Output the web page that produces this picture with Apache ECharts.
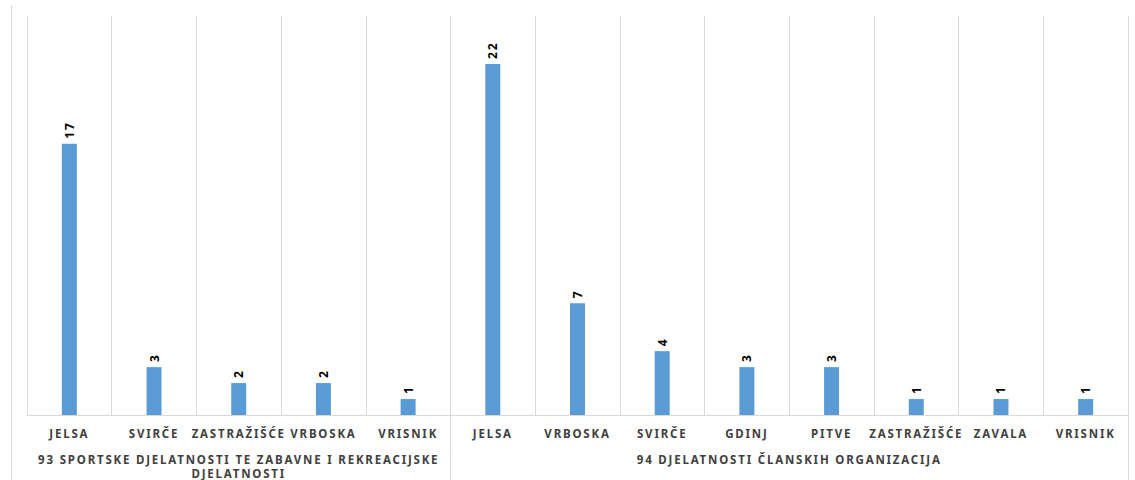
<!DOCTYPE html>
<html><head><meta charset="utf-8">
<script src="https://cdn.jsdelivr.net/npm/echarts@6/dist/echarts.min.js"></script>
<style>html,body{margin:0;background:#fff}#c{width:1135px;height:480px}#c text{letter-spacing:1.8px}</style>
</head><body><div id="c"></div><script>
const categories = ['JELSA','SVIRČE','ZASTRAŽIŠĆE','VRBOSKA','VRISNIK','JELSA','VRBOSKA','SVIRČE','GDINJ','PITVE','ZASTRAŽIŠĆE','ZAVALA','VRISNIK'];
const values = [17,3,2,2,1,22,7,4,3,3,1,1,1];
const groupNames = ['93 SPORTSKE DJELATNOSTI TE ZABAVNE I REKREACIJSKE DJELATNOSTI','94 DJELATNOSTI ČLANSKIH ORGANIZACIJA'];
const groupSizes = [5,8];

const boundaries = [];
const centers = [];
let acc = 0;
groupSizes.forEach(s => { centers.push(acc + s / 2); acc += s; boundaries.push(acc); });

// wrap a label into lines of at most maxChars characters (word boundaries)
function wrap(text, maxChars) {
  const words = text.split(' ');
  const lines = [];
  let cur = '';
  words.forEach(w => {
    if (cur && (cur + ' ' + w).length > maxChars) { lines.push(cur); cur = w; }
    else cur = cur ? cur + ' ' + w : w;
  });
  if (cur) lines.push(cur);
  return lines.join('\n');
}

const FONT = '"Noto Sans", sans-serif';
const chart = echarts.init(document.getElementById('c'), null, {renderer: 'svg'});
chart.setOption({
  animation: false,
  backgroundColor: '#fff',
  grid: {left: 27, right: 7, top: 16, bottom: 65, containLabel: false, outerBoundsMode: 'none'},
  xAxis: [{
    type: 'category',
    data: categories,
    axisLine: {lineStyle: {color: '#d9d9d9'}},
    axisTick: {show: false},
    splitLine: {show: true, lineStyle: {color: '#d9d9d9'}},
    axisLabel: {interval: 0, hideOverlap: false, color: '#404040', fontFamily: FONT, fontWeight: 'bold', fontSize: 11.5, margin: 12}
  }, {
    type: 'value', min: 0, max: acc, position: 'bottom',
    axisLine: {show: false},
    splitLine: {show: false},
    axisTick: {show: true, customValues: boundaries, length: 65, lineStyle: {color: '#d9d9d9'}},
    axisLabel: {
      customValues: centers, margin: 37, color: '#404040', fontFamily: FONT, fontWeight: 'bold', fontSize: 11.5,
      lineHeight: 14, align: 'center',
      formatter: v => wrap(groupNames[centers.indexOf(v)] || '', 50)
    }
  }],
  yAxis: {type: 'value', min: 0, max: 25, show: false},
  graphic: [{type: 'line', shape: {x1: 11.5, y1: 5, x2: 11.5, y2: 480}, style: {stroke: '#d9d9d9', lineWidth: 1}}],
  series: [{
    type: 'bar', data: values, barWidth: 15,
    itemStyle: {color: '#5B9BD5'},
    label: {show: true, position: 'top', rotate: 90, align: 'left', verticalAlign: 'middle', distance: 5,
      color: '#000', fontFamily: FONT, fontWeight: 'bold', fontSize: 12}
  }]
});
</script></body></html>
